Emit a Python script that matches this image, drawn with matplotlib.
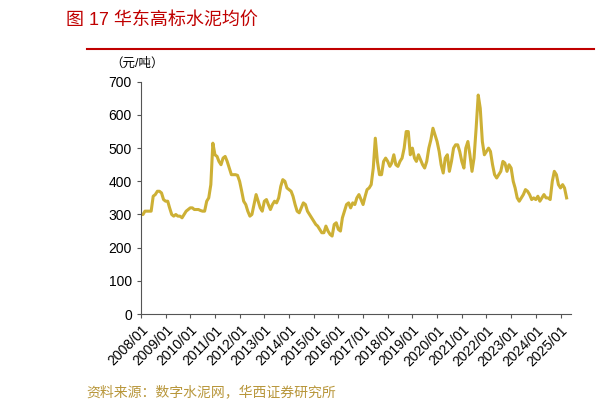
import numpy as np
import pandas as pd
import matplotlib
matplotlib.use("Agg")
import matplotlib.pyplot as plt
import matplotlib.dates as mdates

plt.rcParams["font.family"] = ["Liberation Sans", "Noto Sans CJK SC", "DejaVu Sans"]

# monthly average price, yuan/ton
prices = [
    300, 300, 310, 310, 310, 310, 355, 360, 370, 370, 365, 345,
    340, 340, 320, 300, 295, 300, 295, 295, 290, 300, 310, 315,
    320, 320, 315, 315, 315, 312, 310, 310, 340, 350, 390, 515,
    480, 475, 460, 450, 470, 475, 460, 440, 420, 420, 420, 418,
    400, 370, 340, 330, 310, 295, 300, 330, 360, 340, 320, 310,
    340, 345, 330, 315, 330, 340, 335, 350, 385, 405, 400, 380,
    375, 370, 355, 330, 310, 305, 320, 335, 330, 310, 300, 290,
    280, 270, 265, 255, 245, 245, 265, 250, 240, 235, 270, 275,
    255, 250, 290, 310, 330, 335, 320, 335, 330, 350, 360, 345,
    330, 355, 375, 380, 390, 440, 530, 460, 420, 420, 460, 470,
    460, 445, 455, 480, 450, 445, 460, 470, 500, 550, 550, 480,
    500, 470, 460, 480, 465, 450, 440, 460, 500, 525, 560, 540,
    520, 490, 450, 425, 470, 480, 430, 460, 500, 510, 510, 490,
    460, 440, 500, 520, 480, 430, 470, 560, 660, 620, 520, 480,
    490, 500, 490, 450, 420, 410, 420, 430, 460, 455, 430, 450,
    440, 400, 380, 350, 340, 350, 360, 375, 370, 360, 345, 350,
    345, 355, 340, 350, 360, 350, 350, 345, 400, 430, 420, 390,
    380, 390, 380, 350,
]
dates = pd.date_range("2008-01-01", periods=len(prices), freq="MS")
tick_years = list(range(2008, 2026))

fig = plt.figure(figsize=(5.97, 4.11), dpi=100)
ax = fig.add_axes([0.236, 0.236, 0.72, 0.565])

ax.plot(dates, prices, color="#CDB035", lw=2.2)

ax.set_ylim(0, 700)
ax.set_yticks(range(0, 701, 100))
ax.set_xlim(pd.Timestamp("2008-01-01"), pd.Timestamp("2025-06-01"))
ax.set_xticks([pd.Timestamp(f"{y}-01-01") for y in tick_years])
ax.xaxis.set_major_formatter(mdates.DateFormatter("%Y/%m"))
plt.setp(ax.get_xticklabels(), rotation=45, ha="right", rotation_mode="anchor")
ax.tick_params(labelsize=10, length=3, color="#555555")
for s in ["top", "right"]:
    ax.spines[s].set_visible(False)
for s in ["left", "bottom"]:
    ax.spines[s].set_color("#555555")

fig.text(0.11, 0.95, "图 17 华东高标水泥均价", color="#C00000", fontsize=13, va="center")
fig.add_artist(plt.Line2D([0.145, 0.995], [0.88, 0.88], color="#C00000", lw=1.5,
                          transform=fig.transFigure))
fig.text(0.185, 0.845, "（元/吨）", fontsize=9, va="center", ha="left")
fig.text(0.145, 0.045, "资料来源：数字水泥网，华西证券研究所", color="#B8963A",
         fontsize=10, va="center")

fig.savefig("out.png", dpi=100)
